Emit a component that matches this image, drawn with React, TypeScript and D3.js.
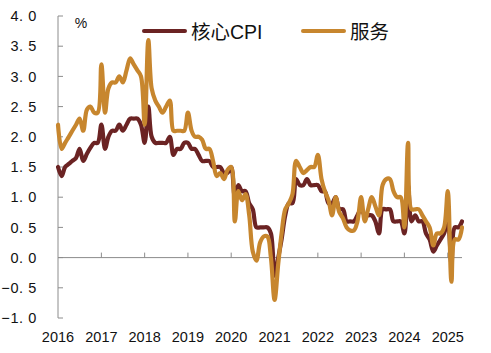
import * as d3 from 'd3';

// 月度同比, 2016-01 ~ 2025-05
const months = d3.timeMonth.range(new Date(2016, 0, 1), new Date(2025, 5, 1));

const coreCpi = [
  1.5, 1.35, 1.5, 1.55, 1.6, 1.65, 1.8, 1.6, 1.72, 1.82, 1.9, 1.9,
  2.2, 1.8, 2.0, 2.1, 2.1, 2.2, 2.1, 2.2, 2.3, 2.3, 2.3, 2.2,
  1.9, 2.5, 2.0, 1.9, 1.9, 1.9, 1.9, 2.0, 1.7, 1.8, 1.8, 1.9,
  1.9, 1.8, 1.8, 1.7, 1.6, 1.6, 1.6, 1.5, 1.5, 1.5, 1.4, 1.4,
  1.5, 1.0, 1.2, 1.1, 1.1, 0.9, 0.8, 0.5, 0.5, 0.5, 0.5, 0.4,
  -0.3, 0.0, 0.3, 0.7, 0.9, 0.9, 1.3, 1.2, 1.2, 1.3, 1.2, 1.2,
  1.2, 1.1, 1.1, 0.9, 0.9, 1.0, 0.8, 0.8, 0.6, 0.6, 0.6, 0.7,
  0.8, 0.7, 0.7, 0.7, 0.6, 0.4, 0.8, 0.8, 0.8, 0.6, 0.6, 0.6,
  0.4, 1.2, 0.6, 0.7, 0.6, 0.6, 0.4, 0.3, 0.1, 0.2, 0.3, 0.4,
  0.6, -0.1, 0.5, 0.5, 0.6,
];

const services = [
  2.2, 1.8, 1.9, 2.0, 2.1, 2.2, 2.3, 2.1, 2.45, 2.5, 2.4, 2.4,
  3.2, 2.4, 2.8, 2.9, 2.9, 3.0, 2.9, 3.1, 3.3, 3.2, 3.1, 3.0,
  2.2, 3.6, 2.8, 2.6, 2.5, 2.4, 2.5, 2.6, 2.1, 2.1, 2.1, 2.1,
  2.4, 2.1, 2.0, 2.0, 1.95, 1.8, 1.8, 1.6, 1.35, 1.4, 1.3, 1.45,
  1.5, 0.6, 1.1, 0.95, 1.05, 0.7, 0.1, -0.05, 0.25, 0.35, 0.35, 0.0,
  -0.7, -0.1, 0.4, 0.8, 0.9, 1.05, 1.6, 1.5, 1.4, 1.45, 1.5, 1.5,
  1.7, 1.3, 1.1, 0.95, 0.7, 1.0, 0.75, 0.65, 0.5, 0.45, 0.45, 0.6,
  1.0, 0.6, 0.8, 1.0, 0.85, 0.7, 1.2, 1.3, 1.3, 1.1, 1.0, 1.0,
  0.5, 1.9, 0.8, 0.8, 0.8, 0.7, 0.6, 0.5, 0.2, 0.4, 0.4, 0.5,
  1.1, -0.4, 0.3, 0.3, 0.5,
];

const yTicks = [-1.0, -0.5, 0.0, 0.5, 1.0, 1.5, 2.0, 2.5, 3.0, 3.5, 4.0];
const years = [2016, 2017, 2018, 2019, 2020, 2021, 2022, 2023, 2024, 2025];

const seriesNames = ['核心CPI', '服务'];
const colors = ['#6b2323', '#c7862e'];

const W = 491;
const H = 353;
const FONT = "'Liberation Sans', Arial, 'Noto Sans CJK SC', sans-serif";

export default function App() {
  const x = d3.scaleTime()
    .domain([months[0], months[months.length - 1]])
    .range([58, 462]);
  const y = d3.scaleLinear().domain([-1, 4]).range([318, 16]);

  const line = d3.line<number>()
    .x((_, i) => x(months[i]))
    .y(d => y(d))
    .curve(d3.curveCatmullRom.alpha(0.5));

  const fmt = (v: number) => {
    const s = d3.format('.1f')(Math.abs(v)).replace('.', '. ');
    return (v < 0 ? '\u2212' : '') + s;
  };

  const axisColor = '#8c8c8c';

  return (
    <div style={{ position: 'fixed', left: 0, top: 0 }}>
      <svg width={W} height={H} viewBox={`0 0 ${W} ${H}`} style={{ display: 'block', background: '#fff' }}>
        {/* y axis */}
        <line x1={58} x2={58} y1={y(-1)} y2={y(4)} stroke={axisColor} strokeWidth={1} />
        {yTicks.map(t => (
          <g key={t}>
            <line x1={58} x2={63} y1={y(t)} y2={y(t)} stroke={axisColor} />
            <text x={37} y={y(t)} dy="0.36em" textAnchor="end" fontSize={14.5}
              letterSpacing={0.6} fontFamily={FONT} fill="#111">{fmt(t)}</text>
          </g>
        ))}
        <text x={81} y={28} textAnchor="middle" fontSize={14} fontFamily={FONT} fill="#111">%</text>

        {/* x axis at 0 */}
        <line x1={58} x2={462} y1={y(0)} y2={y(0)} stroke={axisColor} strokeWidth={1} />
        {years.map(yr => {
          const px = x(new Date(yr, 0, 1));
          return (
            <g key={yr}>
              {yr > 2016 && <line x1={px} x2={px} y1={y(0)} y2={y(0) - 5} stroke={axisColor} />}
              <text x={px} y={342} textAnchor="middle" fontSize={14.5} fontFamily={FONT} fill="#111">{yr}</text>
            </g>
          );
        })}

        {/* lines */}
        <path d={line(coreCpi) || ''} fill="none" stroke={colors[0]} strokeWidth={4.2} strokeLinejoin="round" strokeLinecap="round" />
        <path d={line(services) || ''} fill="none" stroke={colors[1]} strokeWidth={4.2} strokeLinejoin="round" strokeLinecap="round" />

        {/* legend */}
        {[[144, 191], [303, 350]].map(([lx, tx], i) => (
          <g key={seriesNames[i]}>
            <line x1={lx} x2={lx + 41} y1={31} y2={31} stroke={colors[i]} strokeWidth={4} strokeLinecap="round" />
            <text x={tx} y={38.5} fontSize={19.5} fontFamily={FONT} fill="#111">{seriesNames[i]}</text>
          </g>
        ))}
      </svg>
    </div>
  );
}
